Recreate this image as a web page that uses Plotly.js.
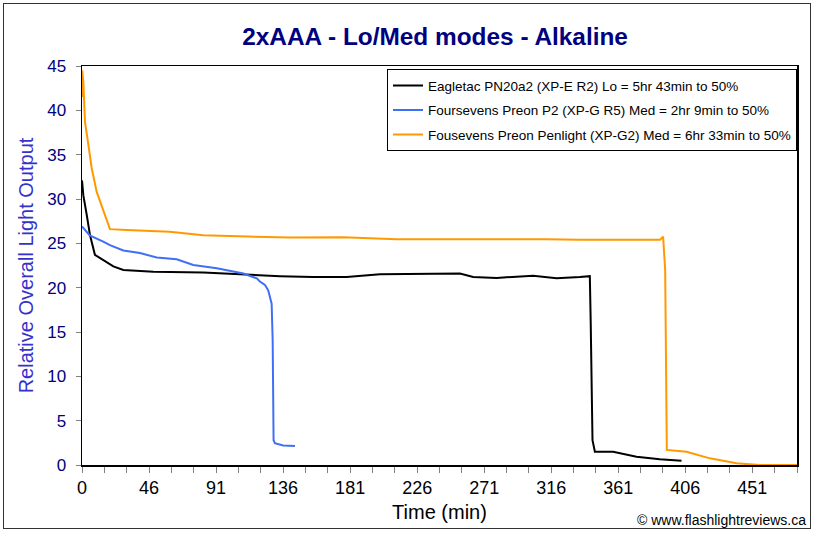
<!DOCTYPE html>
<html>
<head>
<meta charset="utf-8">
<script src="https://cdn.plot.ly/plotly-3.0.1.min.js"></script>
<style>
  html, body { margin: 0; padding: 0; background: #ffffff; }
  #frame { position: absolute; left: 3px; top: 3px; width: 808px; height: 526px; border: 1.5px solid #333333; box-sizing: border-box; }
  #chart { position: absolute; left: 0; top: 0; width: 817px; height: 535px; }
</style>
</head>
<body>
<div id="frame"></div>
<div id="chart"></div>
<script>
// ---- data ----
const seriesNames = [
  "Eagletac PN20a2 (XP-E R2) Lo = 5hr 43min to 50%",
  "Foursevens Preon P2 (XP-G R5) Med = 2hr 9min to 50%",
  "Fousevens Preon Penlight (XP-G2) Med = 6hr 33min to 50%"
];

const eagletacTime = [0, 0.9, 3.2, 5.4, 8.7, 14.3, 21.1, 27.8, 48, 81.6, 104, 133.2, 155.4, 178.1, 200.5, 254.3, 263.2, 279, 303.6, 319.3, 335, 341.7, 342.3, 342.9, 343.5, 345.1, 357.4, 373.1, 388.8, 403.4];
const eagletacOutput = [32.1, 30.4, 28.2, 25.9, 23.7, 23.1, 22.4, 22.0, 21.8, 21.7, 21.5, 21.3, 21.2, 21.2, 21.5, 21.6, 21.2, 21.1, 21.35, 21.05, 21.2, 21.3, 16.0, 8.0, 2.8, 1.5, 1.5, 0.94, 0.64, 0.49];

const preonP2Time = [0, 5.2, 14.3, 18.8, 27.8, 39, 50.3, 63.7, 74.9, 90.7, 108.6, 113, 117.6, 119.7, 123.1, 125.3, 127.6, 128.3, 128.7, 128.9, 129.8, 135.4, 143.3];
const preonP2Output = [26.9, 25.9, 25.2, 24.8, 24.2, 23.9, 23.4, 23.2, 22.55, 22.2, 21.6, 21.3, 21.05, 20.7, 20.3, 19.7, 18.2, 14.1, 8.8, 2.8, 2.45, 2.2, 2.15];

const penlightTime = [0, 0.2, 0.9, 2, 4.3, 6.5, 9.9, 14.3, 18.8, 30, 59, 81.6, 113, 140, 175.6, 211.7, 312.6, 335, 389, 391, 392.4, 393.3, 393.5, 406.8, 422.5, 440.4, 456, 481.1];
const penlightOutput = [41.5, 44.5, 43.2, 38.7, 36.1, 33.5, 30.8, 28.6, 26.6, 26.5, 26.3, 25.9, 25.75, 25.65, 25.7, 25.45, 25.45, 25.4, 25.4, 25.75, 22.0, 10.4, 1.7, 1.5, 0.75, 0.19, 0, 0];

const seriesColors = ["#000000", "#3f6ff5", "#ff9900"];

const xTickText = ["0", "46", "91", "136", "181", "226", "271", "316", "361", "406", "451"];
const xMax = 481.1;
const yTicks = [0, 5, 10, 15, 20, 25, 30, 35, 40, 45];

// ---- build axis ticks: minor marks every third of a labelled interval ----
const nMarks = 32;
const step = xMax / nMarks;
const xTickVals = [], xTickLabels = [];
for (let k = 0; k <= nMarks; k++) {
  xTickVals.push(k * step);
  xTickLabels.push(k % 3 === 0 ? xTickText[k / 3] : "");
}

const font = "Arial, 'Liberation Sans', sans-serif";
const xs = [eagletacTime, preonP2Time, penlightTime];
const ys = [eagletacOutput, preonP2Output, penlightOutput];

const traces = seriesNames.map((name, i) => ({
  type: "scatter",
  mode: "lines",
  name: name,
  x: xs[i],
  y: ys[i],
  line: { color: seriesColors[i], width: 2 },
  legendgroup: "g" + i,
  hoverinfo: "skip"
}));

const layout = {
  width: 817,
  height: 535,
  paper_bgcolor: "rgba(0,0,0,0)",
  plot_bgcolor: "#ffffff",
  margin: { l: 82, r: 20, t: 66, b: 70 },
  title: {
    text: "<b>2xAAA - Lo/Med modes - Alkaline</b>",
    font: { family: font, size: 24.4, color: "#000080" },
    x: 0.5325, xanchor: "center",
    y: 0.932, yanchor: "middle"
  },
  xaxis: {
    range: [0, xMax],
    tickmode: "array",
    tickvals: xTickVals,
    ticktext: xTickLabels,
    ticks: "outside",
    ticklen: 6,
    tickcolor: "#808080",
    tickwidth: 1,
    tickfont: { family: font, size: 18, color: "#000000" },
    showline: true,
    linecolor: "#000000",
    linewidth: 1.5,
    mirror: true,
    showgrid: false,
    zeroline: false,
    title: { text: "Time (min)", font: { family: font, size: 20, color: "#000000" }, standoff: 8 }
  },
  yaxis: {
    range: [0, 45],
    tickmode: "array",
    tickvals: yTicks,
    ticktext: yTicks.map(String),
    ticks: "outside",
    ticklen: 5,
    tickcolor: "#808080",
    tickwidth: 1,
    ticklabelstandoff: 6,
    tickfont: { family: font, size: 17, color: "#000080" },
    showline: true,
    linecolor: "#000000",
    linewidth: 1.5,
    mirror: true,
    showgrid: false,
    zeroline: false,
    title: { text: "Relative Overall Light Output", font: { family: font, size: 20, color: "#3333cc" }, standoff: 8 }
  },
  showlegend: true,
  legend: {
    x: 1, xanchor: "right",
    y: 0.992, yanchor: "top",
    bgcolor: "#ffffff",
    bordercolor: "#000000",
    borderwidth: 1,
    font: { family: font, size: 13.5, color: "#000000" },
    traceorder: "grouped",
    tracegroupgap: 4
  },
  annotations: [{
    text: "© www.flashlightreviews.ca",
    xref: "paper", yref: "paper",
    x: 1.015, xanchor: "right",
    y: -0.138, yanchor: "middle",
    showarrow: false,
    font: { family: font, size: 14, color: "#000000" }
  }]
};

Plotly.newPlot("chart", traces, layout, { displayModeBar: false, staticPlot: true });
</script>
</body>
</html>
